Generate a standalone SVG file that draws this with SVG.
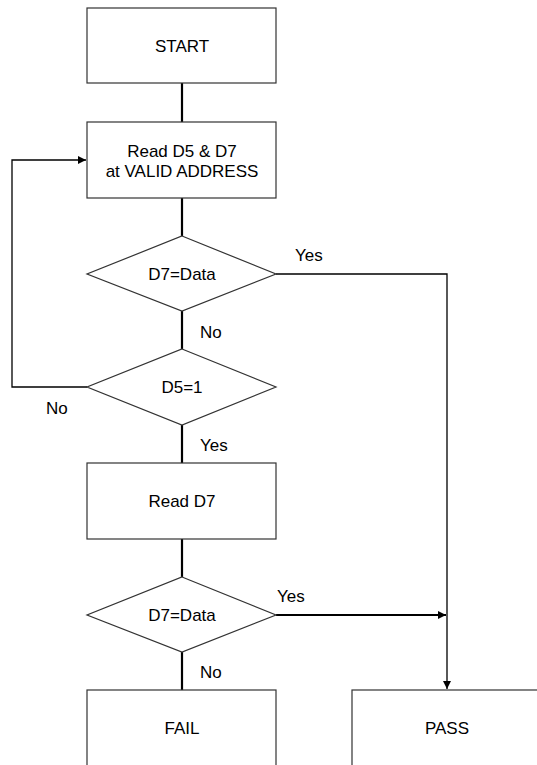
<svg xmlns="http://www.w3.org/2000/svg" width="537" height="765" viewBox="0 0 537 765">
<style>
.box{fill:#fff;stroke:#333;stroke-width:1.2}
.t{font-family:"Liberation Sans",Arial,sans-serif;font-size:17px;fill:#000}
.m{text-anchor:middle}
.thick{fill:none;stroke:#000;stroke-width:2.2}
.thin{fill:none;stroke:#000;stroke-width:1.3}
</style>
<defs>
<marker id="ah" viewBox="0 0 10 10" refX="10" refY="5" markerWidth="8" markerHeight="8" markerUnits="userSpaceOnUse" orient="auto">
<path d="M0,0 L10,5 L0,10 z" fill="#000"/>
</marker>
</defs>
<g id="connectors">
<line class="thick" x1="182" y1="83" x2="182" y2="122"/>
<line class="thick" x1="182" y1="198" x2="182" y2="236"/>
<line class="thick" x1="182" y1="311" x2="182" y2="349"/>
<line class="thick" x1="182" y1="425" x2="182" y2="463"/>
<line class="thick" x1="182" y1="539" x2="182" y2="577"/>
<line class="thick" x1="182" y1="652" x2="182" y2="690"/>
<polyline class="thin" points="87,387 12,387 12,160 86,160" marker-end="url(#ah)"/>
<polyline class="thin" points="276,274 447,274 447,689" marker-end="url(#ah)"/>
<line class="thick" x1="276" y1="615" x2="446" y2="615" marker-end="url(#ah)"/>
<text class="t" x="295" y="261">Yes</text>
<text class="t" x="200" y="338">No</text>
<text class="t" x="46" y="414">No</text>
<text class="t" x="200" y="451">Yes</text>
<text class="t" x="277" y="602">Yes</text>
<text class="t" x="200" y="678">No</text>
</g>
<g id="start"><rect class="box" x="87" y="8" width="189" height="75"/><text class="t m" x="182" y="52">START</text></g>
<g id="read57"><rect class="box" x="87" y="122" width="189" height="76"/><text class="t m" x="182" y="157">Read D5 &amp; D7</text><text class="t m" x="182" y="177">at VALID ADDRESS</text></g>
<g id="d7data1"><polygon class="box" points="182,236 276,274 182,311 87,274"/><text class="t m" x="182" y="280">D7=Data</text></g>
<g id="d5"><polygon class="box" points="182,349 276,387 182,425 87,387"/><text class="t m" x="182" y="393">D5=1</text></g>
<g id="read7"><rect class="box" x="87" y="463" width="189" height="76"/><text class="t m" x="182" y="507">Read D7</text></g>
<g id="d7data2"><polygon class="box" points="182,577 276,615 182,652 87,615"/><text class="t m" x="182" y="621">D7=Data</text></g>
<g id="fail"><rect class="box" x="87" y="690" width="189" height="90"/><text class="t m" x="182" y="734">FAIL</text></g>
<g id="pass"><rect class="box" x="352" y="690" width="200" height="90"/><text class="t m" x="447" y="734">PASS</text></g>
</svg>
